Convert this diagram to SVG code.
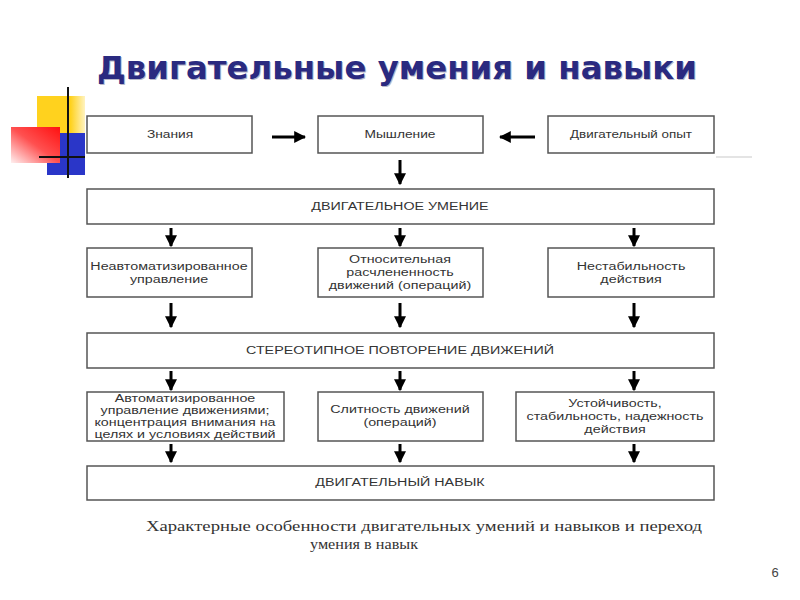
<svg xmlns="http://www.w3.org/2000/svg" width="800" height="600" viewBox="0 0 800 600">
<defs>
<linearGradient id="gY" x1="0" y1="0" x2="1" y2="0"><stop offset="0" stop-color="#ffd21e"/><stop offset="0.7" stop-color="#ffd21e"/><stop offset="1" stop-color="#fff3c0"/></linearGradient>
<linearGradient id="gR" x1="1" y1="0" x2="0" y2="1"><stop offset="0" stop-color="#ff1010"/><stop offset="0.5" stop-color="#ff5050"/><stop offset="1" stop-color="#fff0f0"/></linearGradient>
<marker id="ah" viewBox="0 0 10 10" refX="9" refY="5" markerWidth="4" markerHeight="4" orient="auto" markerUnits="strokeWidth"><path d="M0,0 L10,5 L0,10 z" fill="#000"/></marker>
<style>
.box{fill:#fff;stroke:#555;stroke-width:1.5}
.t{font-family:"Liberation Sans",Arial,sans-serif;font-size:11px;fill:#333;text-anchor:middle}
.arr{stroke:#000;stroke-width:3;fill:none;marker-end:url(#ah)}
.title{font-family:"DejaVu Sans",Tahoma,sans-serif;font-weight:bold;font-size:32px}
.cap{font-family:"Liberation Serif","Times New Roman",serif;font-size:15px;fill:#333}
</style>
</defs>
<rect width="800" height="600" fill="#fff"/>
<g id="decor">
<rect x="37" y="96" width="48" height="37" fill="url(#gY)"/>
<rect x="47" y="133" width="38" height="42" fill="#2a36c8"/>
<rect x="11" y="127" width="49" height="36" fill="url(#gR)"/>
<line x1="68" y1="87" x2="68" y2="178" stroke="#111" stroke-width="2"/>
<line x1="39" y1="157" x2="85" y2="157" stroke="#111" stroke-width="2"/>
<line x1="716" y1="157" x2="752" y2="157" stroke="#e4e4e4" stroke-width="2"/>
</g>
<g id="title">
<text x="98" y="80" class="title" fill="#b8b8c8" textLength="600" lengthAdjust="spacingAndGlyphs">Двигательные умения и навыки</text>
<text x="97" y="79" class="title" fill="#2a2a80" textLength="600" lengthAdjust="spacingAndGlyphs">Двигательные умения и навыки</text>
</g>
<g id="connectors">
<line class="arr" x1="272" y1="137" x2="305" y2="137"/>
<line class="arr" x1="535" y1="137" x2="500" y2="137"/>
<line class="arr" x1="400" y1="160" x2="400" y2="184"/>
<line class="arr" x1="171" y1="228" x2="171" y2="246"/>
<line class="arr" x1="400" y1="228" x2="400" y2="246"/>
<line class="arr" x1="634" y1="228" x2="634" y2="246"/>
<line class="arr" x1="171" y1="303" x2="171" y2="327"/>
<line class="arr" x1="400" y1="303" x2="400" y2="327"/>
<line class="arr" x1="634" y1="303" x2="634" y2="327"/>
<line class="arr" x1="171" y1="371" x2="171" y2="390"/>
<line class="arr" x1="400" y1="371" x2="400" y2="390"/>
<line class="arr" x1="634" y1="371" x2="634" y2="390"/>
<line class="arr" x1="171" y1="444" x2="171" y2="462"/>
<line class="arr" x1="400" y1="444" x2="400" y2="462"/>
<line class="arr" x1="634" y1="444" x2="634" y2="462"/>
</g>
<g id="n-znaniya"><rect class="box" x="87" y="116" width="165" height="37"/><text class="t" transform="translate(170 0) scale(1.25 1)" x="0" y="138">Знания</text></g>
<g id="n-myshlenie"><rect class="box" x="318" y="116" width="165" height="37"/><text class="t" transform="translate(400 0) scale(1.25 1)" x="0" y="138">Мышление</text></g>
<g id="n-opyt"><rect class="box" x="548" y="116" width="166" height="37"/><text class="t" transform="translate(631 0) scale(1.22 1)" x="0" y="138">Двигательный опыт</text></g>
<g id="n-umenie"><rect class="box" x="87" y="189" width="627" height="35"/><text class="t" transform="translate(400 0) scale(1.3 1)" x="0" y="210">ДВИГАТЕЛЬНОЕ УМЕНИЕ</text></g>
<g id="n-neavt"><rect class="box" x="87" y="248" width="165" height="49"/>
<g class="t" transform="translate(169 0) scale(1.3 1)"><text class="t" x="0" y="270">Неавтоматизированное</text><text class="t" x="0" y="283">управление</text></g></g>
<g id="n-rasch"><rect class="box" x="318" y="248" width="165" height="49"/>
<g transform="translate(400 0) scale(1.3 1)"><text class="t" x="0" y="263">Относительная</text><text class="t" x="0" y="276">расчлененность</text><text class="t" x="0" y="289">движений (операций)</text></g></g>
<g id="n-nestab"><rect class="box" x="548" y="248" width="166" height="49"/>
<g transform="translate(631 0) scale(1.3 1)"><text class="t" x="0" y="270">Нестабильность</text><text class="t" x="0" y="283">действия</text></g></g>
<g id="n-stereo"><rect class="box" x="87" y="333" width="627" height="35"/><text class="t" transform="translate(400 0) scale(1.3 1)" x="0" y="354">СТЕРЕОТИПНОЕ ПОВТОРЕНИЕ ДВИЖЕНИЙ</text></g>
<g id="n-avtom"><rect class="box" x="87" y="392" width="197" height="49"/>
<g transform="translate(185 0) scale(1.3 1)"><text class="t" x="0" y="402">Автоматизированное</text><text class="t" x="0" y="414">управление движениями;</text><text class="t" x="0" y="426">концентрация внимания на</text><text class="t" x="0" y="438">целях и условиях действий</text></g></g>
<g id="n-slitnost"><rect class="box" x="318" y="392" width="165" height="49"/>
<g transform="translate(400 0) scale(1.3 1)"><text class="t" x="0" y="413">Слитность движений</text><text class="t" x="0" y="426">(операций)</text></g></g>
<g id="n-ustoych"><rect class="box" x="516" y="392" width="198" height="49"/>
<g transform="translate(615 0) scale(1.3 1)"><text class="t" x="0" y="407">Устойчивость,</text><text class="t" x="0" y="420">стабильность, надежность</text><text class="t" x="0" y="433">действия</text></g></g>
<g id="n-navyk"><rect class="box" x="87" y="466" width="627" height="34"/><text class="t" transform="translate(400 0) scale(1.3 1)" x="0" y="486">ДВИГАТЕЛЬНЫЙ НАВЫК</text></g>
<g id="caption">
<text class="cap" x="146" y="531" textLength="556" lengthAdjust="spacingAndGlyphs">Характерные особенности двигательных умений и навыков и переход</text>
<text class="cap" x="310" y="549" textLength="108" lengthAdjust="spacingAndGlyphs">умения в навык</text>
</g>
<text x="775" y="577" font-family="Liberation Sans,Arial,sans-serif" font-size="13" fill="#444" text-anchor="middle">6</text>
</svg>
